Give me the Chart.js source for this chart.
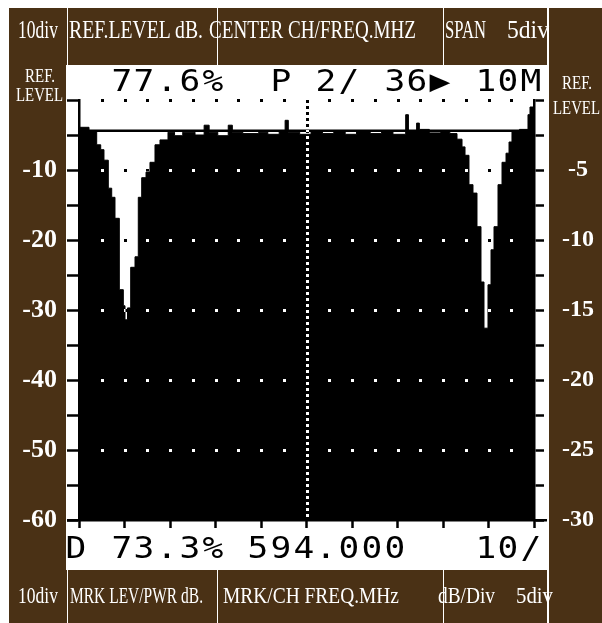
<!DOCTYPE html>
<html>
<head>
<meta charset="utf-8">
<script src="https://cdn.jsdelivr.net/npm/chart.js@4.4.1/dist/chart.umd.min.js"></script>
<style>
  html, body { margin:0; padding:0; background:#fff; }
  #stage { position:relative; width:602px; height:623px; overflow:hidden; background:#fff; }
  .pane { position:absolute; background:#4a3115; }
  .cap { position:absolute; color:#fff; font-family:"Liberation Serif","Times New Roman",serif;
         white-space:pre; transform-origin:0 0; z-index:3; }
  .lcd { position:absolute; width:20px; text-align:center; color:#000;
         font-family:"DejaVu Sans Mono",monospace; font-size:30px; line-height:30px;
         transform:scaleX(1.15); z-index:3; }
  #plot { position:absolute; left:0; top:0; z-index:2; }
</style>
</head>
<body>
<div id="stage">
  <!-- header strip -->
  <div class="pane" style="left:9px;top:8px;width:58px;height:57px"></div>
  <div class="pane" style="left:68px;top:8px;width:149px;height:57px"></div>
  <div class="pane" style="left:218px;top:8px;width:225px;height:57px"></div>
  <div class="pane" style="left:444px;top:8px;width:103px;height:57px"></div>
  <!-- left column -->
  <div class="pane" style="left:9px;top:65px;width:57px;height:505px"></div>
  <!-- footer strip -->
  <div class="pane" style="left:9px;top:570px;width:58px;height:53px"></div>
  <div class="pane" style="left:68px;top:570px;width:149px;height:53px"></div>
  <div class="pane" style="left:218px;top:570px;width:225px;height:53px"></div>
  <div class="pane" style="left:444px;top:570px;width:103px;height:53px"></div>
  <!-- right column -->
  <div class="pane" style="left:549px;top:8px;width:53px;height:615px"></div>

  <!-- header captions -->
  <span class="cap" data-w="40"  style="left:18px;top:17px;font-size:26px;line-height:26px">10div</span>
  <span class="cap" data-w="134" style="left:69px;top:17px;font-size:26px;line-height:26px">REF.LEVEL dB.</span>
  <span class="cap" data-w="207" style="left:209px;top:17px;font-size:26px;line-height:26px">CENTER CH/FREQ.MHZ</span>
  <span class="cap" data-w="41"  style="left:445px;top:17px;font-size:26px;line-height:26px">SPAN</span>
  <span class="cap" data-w="42"  style="left:507px;top:17px;font-size:26px;line-height:26px">5div</span>

  <!-- footer captions -->
  <span class="cap" data-w="40"  style="left:18px;top:583px;font-size:24px;line-height:24px">10div</span>
  <span class="cap" data-w="133" style="left:70px;top:583px;font-size:24px;line-height:24px">MRK LEV/PWR dB.</span>
  <span class="cap" data-w="176" style="left:223px;top:583px;font-size:24px;line-height:24px">MRK/CH FREQ.MHz</span>
  <span class="cap" data-w="57"  style="left:438px;top:583px;font-size:24px;line-height:24px">dB/Div</span>
  <span class="cap" data-w="37"  style="left:516px;top:583px;font-size:24px;line-height:24px">5div</span>

  <!-- reference level captions -->
  <span class="cap" data-w="30" style="left:25px;top:67px;font-size:18px;line-height:18px">REF.</span>
  <span class="cap" data-w="47" style="left:16px;top:86px;font-size:18px;line-height:18px">LEVEL</span>
  <span class="cap" data-w="30" style="left:562px;top:74px;font-size:18px;line-height:18px">REF.</span>
  <span class="cap" data-w="47" style="left:553px;top:99px;font-size:18px;line-height:18px">LEVEL</span>

  <canvas id="plot" width="602" height="623"></canvas>
</div>

<script>
// Swept trace: frequency of each step start (MHz) and the level held until the next step (dB)
const freqMHz = [
  589.000, 589.220, 589.389, 589.477, 589.549, 589.644, 589.719, 589.791, 589.886, 589.974,
  590.011, 590.066, 590.136, 590.231, 590.303, 590.378, 590.473, 590.560, 590.670, 590.780,
  590.956, 591.100, 591.280, 591.550, 591.750, 591.860, 592.050, 592.280, 592.370, 592.600,
  592.950, 593.150, 593.400, 593.530, 593.600, 593.850, 594.100, 594.350, 594.600, 594.850,
  595.100, 595.400, 595.650, 595.900, 596.180, 596.240, 596.420, 596.480, 596.700, 596.950,
  597.150, 597.308, 597.418, 597.484, 597.571, 597.659, 597.747, 597.835, 597.901, 597.989,
  598.055, 598.121, 598.209, 598.297, 598.385, 598.451, 598.516, 598.680, 598.868, 598.912,
  599.000
];
const levelDb = [
  -3.9, -4.4, -6.4, -7.1, -8.6, -12.6, -13.9, -16.9, -27.1, -29.4,
  -31.4, -29.7, -23.9, -22.4, -13.9, -11.1, -10.3, -8.9, -6.4, -5.7,
  -4.6, -5.1, -4.6, -5.0, -3.6, -4.6, -5.1, -3.6, -4.6, -4.8,
  -4.6, -4.9, -4.4, -2.9, -4.6, -4.9, -4.5, -4.8, -4.4, -4.9,
  -4.5, -4.8, -4.4, -4.9, -2.1, -4.5, -3.3, -4.2, -4.7, -4.4,
  -4.8, -5.6, -6.7, -7.9, -12.1, -13.3, -18.1, -26.0, -32.6, -26.4,
  -21.4, -18.1, -12.1, -8.9, -7.6, -6.0, -4.4, -4.2, -2.1, -1.0,
  -1.0
];
// Display line level (dB)
const displayLineDb = -4.4;

// Axis ranges and labelled values
const spanMHz = [589, 599];
const leftRangeDb = [-60, 0];
const rightRangeDb = [-30, 0];
const leftLabels = [-10, -20, -30, -40, -50, -60];
const rightLabels = [-5, -10, -15, -20, -25, -30];
const gridRowsDb = [0, -10, -20, -30, -40, -50];

// LCD readouts (one character per cell)
const readoutTop = "  77.6%  P 2/ 36\u25B6 10M";
const readoutBottom = "D 73.3% 594.000   10/";

const stage = document.getElementById('stage');

function lcdRow(text, top) {
  [...text].forEach((ch, k) => {
    const s = document.createElement('span');
    s.className = 'lcd';
    s.textContent = ch;
    s.style.left = (66 + 22.75 * k) + 'px';
    s.style.top = top + 'px';
    stage.appendChild(s);
  });
}
lcdRow(readoutTop, 66);
lcdRow(readoutBottom, 533);

// squeeze the serif captions to their panel widths
document.querySelectorAll('.cap').forEach(el => {
  const natural = el.getBoundingClientRect().width;
  el.style.transform = 'scaleX(' + (+el.dataset.w / natural) + ')';
});

const serif = "'Liberation Serif', 'Times New Roman', serif";

// white screen, frame line and XOR-style dotted graticule
const screenPlugin = {
  id: 'screen',
  beforeDraw(chart) {
    const ctx = chart.ctx;
    ctx.save();
    ctx.fillStyle = '#fff';
    ctx.fillRect(67, 65, 480, 505);
    ctx.restore();
  },
  afterDatasetsDraw(chart) {
    const ctx = chart.ctx;
    const xs = chart.scales.x, ys = chart.scales.y;
    const yBottom = ys.getPixelForValue(leftRangeDb[0]);
    const yTop = ys.getPixelForValue(leftRangeDb[1]);
    ctx.save();
    ctx.fillStyle = '#000';
    ctx.fillRect(67, Math.round(yBottom) - 1, 480, 2.5);

    ctx.globalCompositeOperation = 'difference';
    ctx.fillStyle = '#fff';
    const half = 0.5;
    gridRowsDb.forEach(db => {
      const y = Math.round(ys.getPixelForValue(db));
      for (let f = spanMHz[0] + half; f < spanMHz[1]; f += half) {
        if (Math.abs(f - (spanMHz[0] + spanMHz[1]) / 2) < 1e-6) continue;
        const x = Math.round(xs.getPixelForValue(f));
        ctx.fillRect(x - 1, y - 1, 3, 3);
      }
    });
    const xc = Math.round(xs.getPixelForValue((spanMHz[0] + spanMHz[1]) / 2));
    for (let y = yTop; y < yBottom - 2; y += 6) {
      ctx.fillRect(xc - 1, Math.round(y), 3, 3);
    }
    ctx.restore();
  }
};

new Chart(document.getElementById('plot'), {
  type: 'line',
  data: {
    datasets: [
      {
        label: 'trace',
        data: freqMHz.map((f, i) => ({ x: f, y: levelDb[i] })),
        stepped: true,
        borderColor: '#000',
        borderWidth: 1,
        backgroundColor: '#000',
        fill: 'start',
        pointRadius: 0
      },
      {
        label: 'display line',
        data: [{ x: spanMHz[0], y: displayLineDb }, { x: spanMHz[1], y: displayLineDb }],
        borderColor: '#000',
        borderWidth: 2.5,
        pointRadius: 0,
        fill: false
      }
    ]
  },
  options: {
    responsive: false,
    animation: false,
    devicePixelRatio: 1,
    layout: { padding: { left: 9, right: 0, top: 100, bottom: 93 } },
    plugins: { legend: { display: false }, tooltip: { enabled: false } },
    scales: {
      x: {
        type: 'linear', min: spanMHz[0], max: spanMHz[1],
        ticks: { display: false, stepSize: 1 },
        grid: { drawOnChartArea: false, drawTicks: true, tickLength: 8, tickWidth: 2.5, tickColor: '#000', color: '#000' },
        border: { display: false },
        afterFit(s) { s.height = 10; }
      },
      y: {
        position: 'left', min: leftRangeDb[0], max: leftRangeDb[1],
        ticks: {
          stepSize: 5, padding: 10, color: '#fff',
          font: { family: serif, size: 26, weight: 'bold' },
          callback: v => leftLabels.includes(v) ? String(v) : ''
        },
        grid: { drawOnChartArea: false, drawTicks: true, tickLength: 12, tickWidth: 2.5, tickColor: '#000', color: '#000' },
        border: { display: true, color: '#000', width: 2.5 },
        afterFit(s) { s.width = 70; }
      },
      y2: {
        position: 'right', min: rightRangeDb[0], max: rightRangeDb[1],
        ticks: {
          stepSize: 2.5, padding: 18, color: '#fff', crossAlign: 'center',
          font: { family: serif, size: 24, weight: 'bold' },
          callback: v => rightLabels.includes(v) ? String(v) : ''
        },
        grid: { drawOnChartArea: false, drawTicks: true, tickLength: 10, tickWidth: 2.5, tickColor: '#000', color: '#000' },
        border: { display: true, color: '#000', width: 2.5 },
        afterFit(s) { s.width = 68; }
      }
    }
  },
  plugins: [screenPlugin]
});
</script>
</body>
</html>
